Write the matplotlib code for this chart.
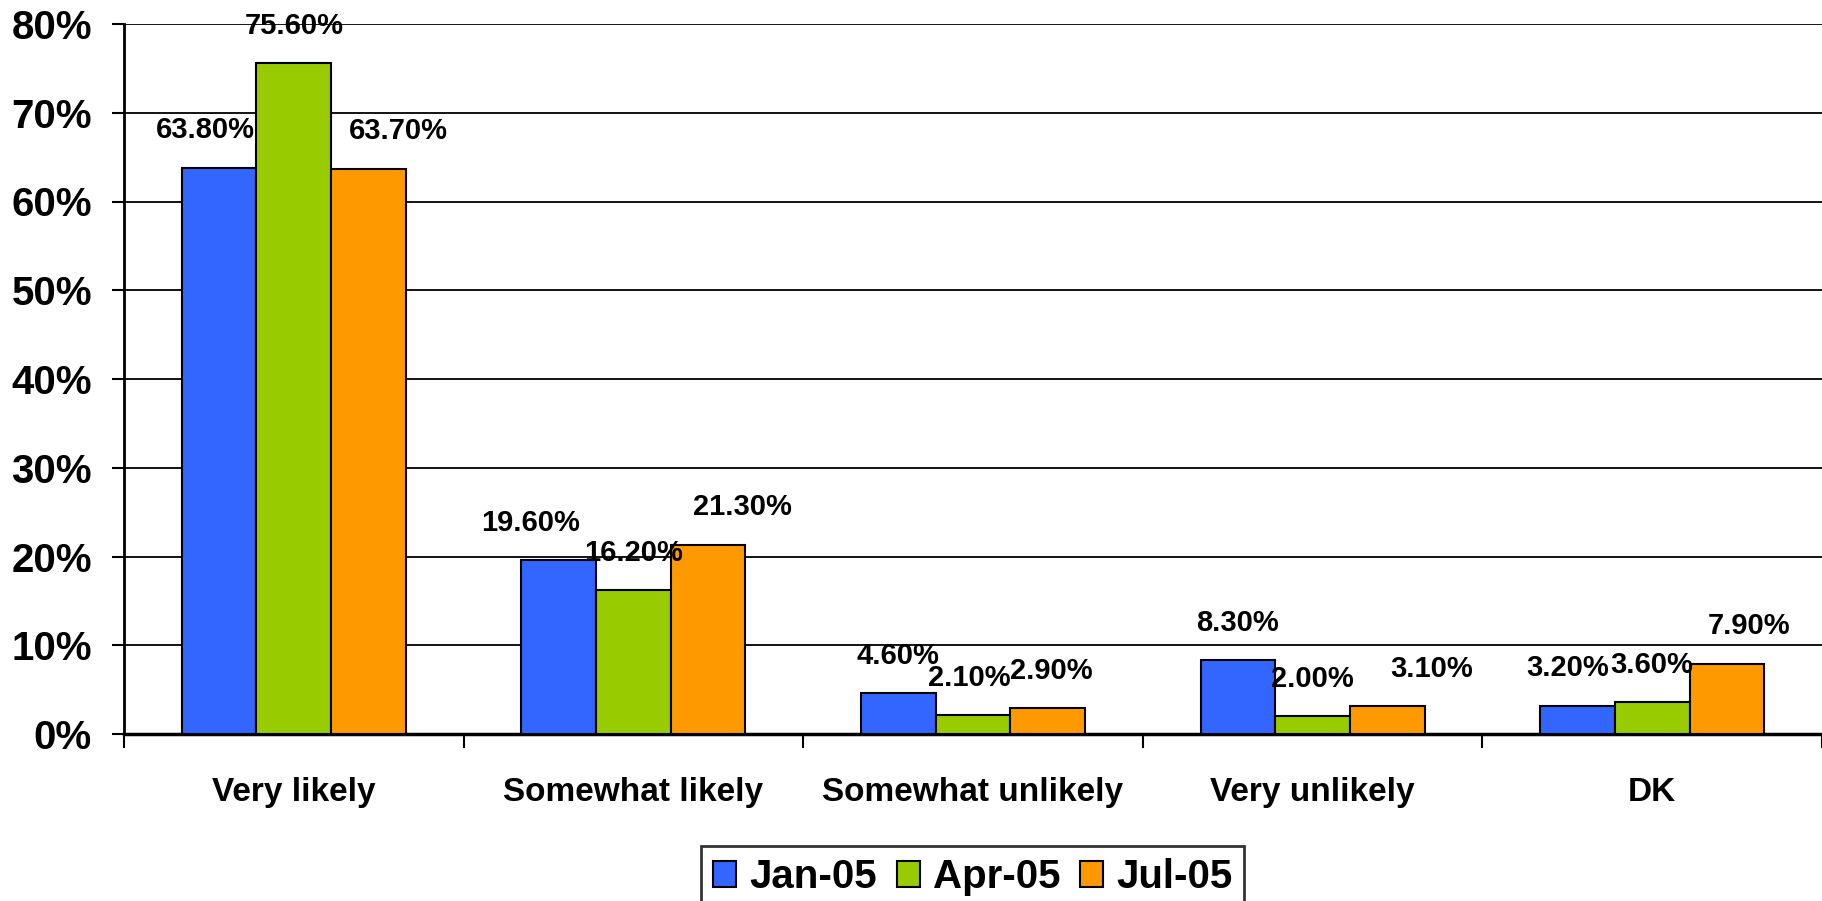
import matplotlib
matplotlib.use("Agg")
import matplotlib.pyplot as plt
import numpy as np

plt.rcParams["font.family"] = ["Liberation Sans", "DejaVu Sans"]
plt.rcParams["font.weight"] = "bold"

categories = ["Very likely", "Somewhat likely", "Somewhat unlikely", "Very unlikely", "DK"]
series_names = ["Jan-05", "Apr-05", "Jul-05"]
jan05 = [63.8, 19.6, 4.6, 8.3, 3.2]
apr05 = [75.6, 16.2, 2.1, 2.0, 3.6]
jul05 = [63.7, 21.3, 2.9, 3.1, 7.9]
colors = ["#3366FF", "#99CC00", "#FF9900"]

# horizontal nudges (px) for labels that Excel pushed aside
nudge = {(0, 0): -14, (0, 2): 30, (1, 0): -28, (1, 2): 34, (2, 1): -4, (2, 2): 4,
         (3, 2): 44, (4, 0): -10, (4, 2): 22}

fig = plt.figure(figsize=(18.22, 9.01), dpi=100)
ax = fig.add_axes([124 / 1822, 1 - 734 / 901, 1 - 124 / 1822, (734 - 24) / 901])

x = np.arange(len(categories))
w = 0.22
for i, vals in enumerate([jan05, apr05, jul05]):
    pos = x + (i - 1) * w
    ax.bar(pos, vals, w, color=colors[i], edgecolor="black", linewidth=1.5,
           label=series_names[i], zorder=3)
    for j, v in enumerate(vals):
        ax.annotate(f"{v:.2f}%", (pos[j], v), xytext=(nudge.get((j, i), 0) * 0.72, 27),
                    textcoords="offset points", ha="center", va="center",
                    fontsize=21, fontweight="bold", zorder=4)

ax.set_xlim(-0.5, len(categories) - 0.5)
ax.set_ylim(0, 80)
ax.set_yticks(np.arange(0, 81, 10))
ax.set_yticklabels([f"{t}%" for t in range(0, 81, 10)], fontsize=29, fontweight="bold")
ax.yaxis.grid(True, color="black", linewidth=1.3, zorder=0)
ax.set_axisbelow(True)

ax.set_xticks(np.arange(-0.5, len(categories)), minor=False)
ax.set_xticklabels([])
ax.set_xticks(x, minor=True)
ax.set_xticklabels(categories, minor=True, fontsize=24, fontweight="bold")
ax.tick_params(axis="x", which="major", length=10, width=1.5, direction="out")
ax.tick_params(axis="x", which="minor", length=0, pad=31)
ax.tick_params(axis="y", length=9, width=1.5, pad=14)

for s in ["top", "right"]:
    ax.spines[s].set_visible(False)
ax.spines["left"].set_linewidth(2)
ax.spines["bottom"].set_linewidth(2.5)

leg = fig.legend(loc="upper left", bbox_to_anchor=(701 / 1822, 1 - 846 / 901), ncol=3,
                 frameon=True, fancybox=False, edgecolor="black",
                 prop={"size": 29, "weight": "bold"},
                 handlelength=0.57, handleheight=0.6,
                 handletextpad=0.32, columnspacing=0.5, borderpad=0.3, borderaxespad=0)
leg.get_frame().set_linewidth(2)

fig.savefig("out.png", dpi=100)
